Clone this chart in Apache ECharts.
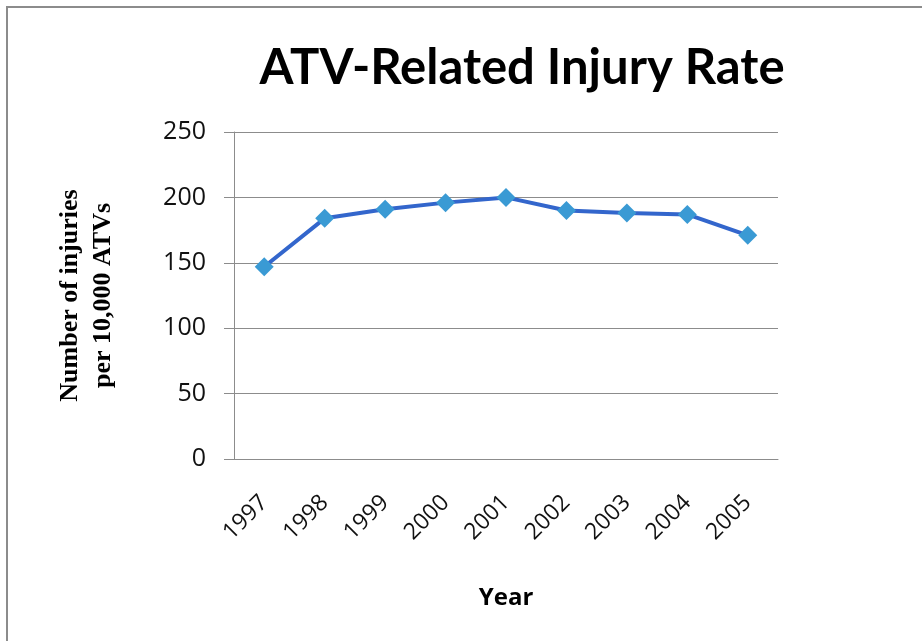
<!DOCTYPE html>
<html>
<head>
<meta charset="utf-8">
<script src="https://cdn.jsdelivr.net/npm/echarts@6/dist/echarts.min.js"></script>
<style>
  html, body { margin: 0; padding: 0; background: #fff; }
  #frame { position: absolute; left: 0; top: 0; width: 922px; height: 641px; overflow: hidden; }
  #border { position: absolute; left: 6px; top: 6px; width: 940px; height: 660px; border: 2px solid #8c8c8c; box-sizing: border-box; }
  #chart { position: absolute; left: 0; top: 0; width: 922px; height: 641px; }
</style>
</head>
<body>
<div id="frame">
  <div id="border"></div>
  <div id="chart"></div>
</div>
<script>
// 数据
const years = ['1997', '1998', '1999', '2000', '2001', '2002', '2003', '2004', '2005']
const injuryRate = [147, 184, 191, 196, 200, 190, 188, 187, 171]
const yTicks = [0, 50, 100, 150, 200, 250]

const chart = echarts.init(document.getElementById('chart'))

chart.setOption({
  backgroundColor: 'transparent',
  animation: false,
  title: {
    text: 'ATV-Related Injury Rate',
    left: 517,
    top: 39,
    textAlign: 'center',
    textStyle: {
      fontFamily: 'Lato',
      fontWeight: 'bold',
      fontSize: 49,
      color: '#000'
    }
  },
  grid: {
    left: 234,
    right: 144,
    top: 132,
    bottom: 182
  },
  xAxis: {
    type: 'category',
    data: years,
    boundaryGap: true,
    name: 'Year',
    nameLocation: 'middle',
    nameGap: 127,
    nameTextStyle: {
      fontFamily: 'Open Sans',
      fontWeight: 'bold',
      fontSize: 24,
      color: '#000'
    },
    axisLine: { lineStyle: { color: '#8c8c8c', width: 1 } },
    axisTick: { show: false },
    axisLabel: {
      rotate: 45,
      margin: 40,
      fontFamily: 'Open Sans',
      fontSize: 23,
      color: '#111'
    }
  },
  yAxis: {
    type: 'value',
    min: yTicks[0],
    max: yTicks[yTicks.length - 1],
    interval: 50,
    name: 'Number of injuries\nper 10,000 ATVs',
    nameLocation: 'middle',
    nameGap: 114,
    nameRotate: 90,
    nameTextStyle: {
      fontFamily: 'Liberation Serif',
      fontWeight: 'bold',
      fontSize: 26,
      lineHeight: 33,
      color: '#000'
    },
    axisLine: { show: true, lineStyle: { color: '#8c8c8c', width: 1 } },
    axisTick: { show: true, length: 10, inside: false, lineStyle: { color: '#8c8c8c' } },
    splitLine: { lineStyle: { color: '#8c8c8c', width: 1 } },
    axisLabel: {
      margin: 28,
      fontFamily: 'Open Sans',
      fontSize: 25,
      color: '#111'
    }
  },
  series: [{
    type: 'line',
    data: injuryRate,
    symbol: 'diamond',
    symbolSize: 19,
    lineStyle: { color: '#3366cc', width: 4 },
    itemStyle: { color: '#3a9ad4' },
    z: 3
  }]
})
</script>
</body>
</html>
